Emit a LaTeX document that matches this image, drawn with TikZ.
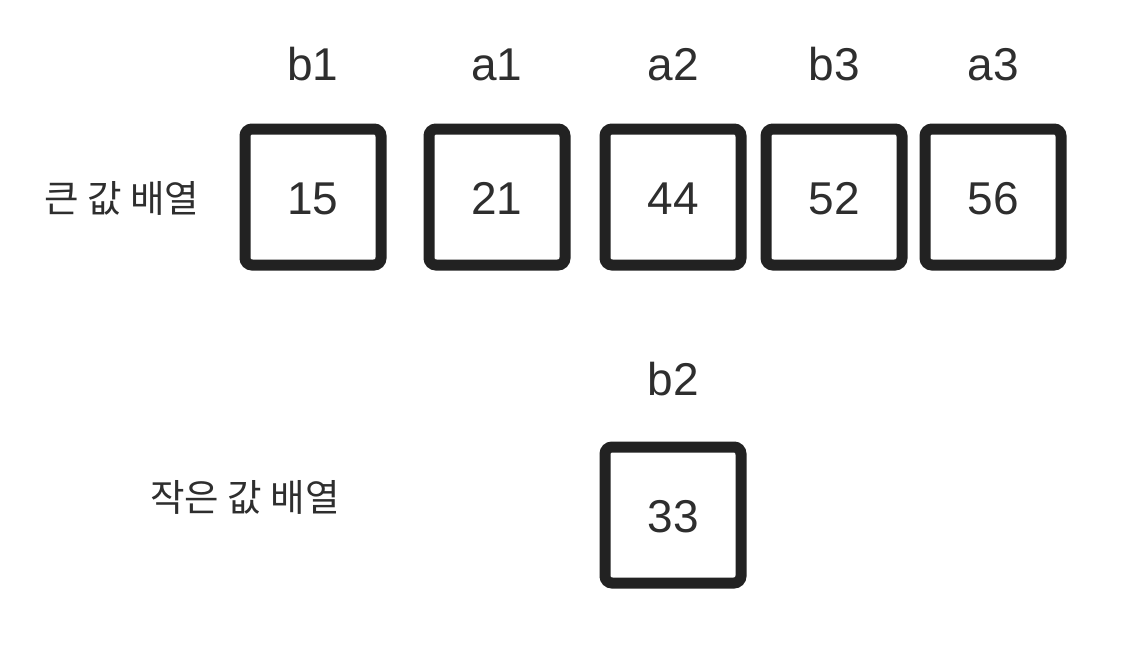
\documentclass[tikz,border=0pt]{standalone}
\usepackage{fontspec}
\setmainfont{Liberation Sans}
\newfontfamily\krfont{Noto Sans CJK KR}
\definecolor{ink}{HTML}{222222}
\definecolor{txt}{HTML}{2E2E2E}
\begin{document}
\begin{tikzpicture}[x=1pt,y=-1pt,
  cell/.style={draw=ink, line width=11pt, rounded corners=7pt, minimum width=136pt, minimum height=136pt, inner sep=0pt, fill=white},
  num/.style={anchor=base, inner sep=0pt, text=txt, font=\fontsize{46}{50}\selectfont},
  lbl/.style={anchor=base, inner sep=0pt, text=txt, font=\fontsize{46}{50}\selectfont},
  kr/.style={anchor=center, inner sep=0pt, text=txt, font=\krfont\fontsize{37.5}{40}\selectfont}]
\useasboundingbox (0,0) rectangle (1124,648);
% boxes
\node[cell] (c1) at (313,197) {};
\node[cell] (c2) at (497,197) {};
\node[cell] (c3) at (673,197) {};
\node[cell] (c4) at (834,197) {};
\node[cell] (c5) at (993,197) {};
\node[cell] (d1) at (673,515) {};
% numbers
\node[num] (n1) at (313,214) {15};
\node[num] (n2) at (497,214) {21};
\node[num] (n3) at (673,214) {44};
\node[num] (n4) at (834,214) {52};
\node[num] (n5) at (993,214) {56};
\node[num] (m1) at (673,532) {33};
% labels
\node[lbl] (l1) at (313,80) {b1};
\node[lbl] (l2) at (497,80) {a1};
\node[lbl] (l3) at (673,80) {a2};
\node[lbl] (l4) at (834,80) {b3};
\node[lbl] (l5) at (993,80) {a3};
\node[lbl] (k1) at (673,395) {b2};
% row titles
\node[kr] (t1) at (122,198) {큰 값 배열};
\node[kr] (t2) at (245,497) {작은 값 배열};
\end{tikzpicture}
\end{document}
